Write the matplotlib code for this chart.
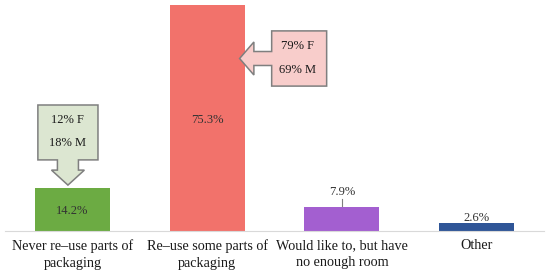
import matplotlib
matplotlib.use('Agg')
import matplotlib.pyplot as plt
from matplotlib.patches import Polygon

# data
categories = ['Never re\u2013use parts of\npackaging', 'Re\u2013use some parts of\npackaging',
              'Would like to, but have\nno enough room', 'Other']
values = [14.2, 75.3, 7.9, 2.6]
colors = ['#6CAB43', '#F2726B', '#A35FD0', '#2F5597']
labels = ['14.2%', '75.3%', '7.9%', '2.6%']
never_gender = ['12% F', '18% M']
some_gender = ['79% F', '69% M']

plt.rcParams['font.family'] = ['Liberation Serif', 'DejaVu Serif']

fig = plt.figure(figsize=(5.5, 2.79), dpi=100)
ax = fig.add_axes([5 / 550, 48 / 279, 539 / 550, 231 / 279])

x = list(range(len(values)))
ax.bar(x, values, width=0.557, color=colors)
ax.set_xlim(-0.5, 3.5)
ax.set_ylim(0, 77)

for s in ['top', 'right', 'left']:
    ax.spines[s].set_visible(False)
ax.spines['bottom'].set_color('#D9D9D9')
ax.set_yticks([])
ax.set_xticks(x)
ax.set_xticklabels(categories, fontsize=10.2, color='#1a1a1a', linespacing=1.4)
ax.tick_params(axis='x', length=0, pad=6)

# value labels
ax.text(x[0], values[0] / 2 - 0.5, labels[0], ha='center', va='center', fontsize=9, color='#333333')
ax.text(x[1], values[1] / 2 - 0.5, labels[1], ha='center', va='center', fontsize=9, color='#333333')
ax.text(x[2], values[2] + 5.2, labels[2], ha='center', va='center', fontsize=9, color='#333333')
ax.plot([x[2], x[2]], [values[2] + 0.5, values[2] + 2.8], color='#7F7F7F', lw=0.8)
ax.text(x[3], values[3] + 1.8, labels[3], ha='center', va='center', fontsize=9, color='#333333')

# down arrow callout over first bar
c = x[0] - 0.033
v = values[0]
bw, sw, hw = 0.223, 0.078, 0.122
pts = [(c - bw, v + 27.8), (c + bw, v + 27.8), (c + bw, v + 9.5), (c + sw, v + 9.5),
       (c + sw, v + 6.1), (c + hw, v + 6.1), (c, v + 1.1), (c - hw, v + 6.1),
       (c - sw, v + 6.1), (c - sw, v + 9.5), (c - bw, v + 9.5)]
ax.add_patch(Polygon(pts, closed=True, facecolor='#DCE6D1', edgecolor='#7F7F7F', lw=1.1))
ax.text(c, v + 22.8, never_gender[0], ha='center', va='center', fontsize=9, color='#1a1a1a')
ax.text(c, v + 15.1, never_gender[1], ha='center', va='center', fontsize=9, color='#1a1a1a')

# left arrow callout next to second bar
b = x[1]
yc = 57.5
pts = [(b + 0.241, yc), (b + 0.347, yc + 5.5), (b + 0.347, yc + 2.33), (b + 0.479, yc + 2.33),
       (b + 0.479, 66.7), (b + 0.887, 66.7), (b + 0.887, 48.3), (b + 0.479, 48.3),
       (b + 0.479, yc - 2.33), (b + 0.347, yc - 2.33), (b + 0.347, yc - 5.5)]
ax.add_patch(Polygon(pts, closed=True, facecolor='#F8CDCB', edgecolor='#7F7F7F', lw=1.1))
ax.text(b + 0.674, 61.7, some_gender[0], ha='center', va='center', fontsize=9, color='#1a1a1a')
ax.text(b + 0.674, 53.7, some_gender[1], ha='center', va='center', fontsize=9, color='#1a1a1a')

plt.savefig('out.png', dpi=100)
